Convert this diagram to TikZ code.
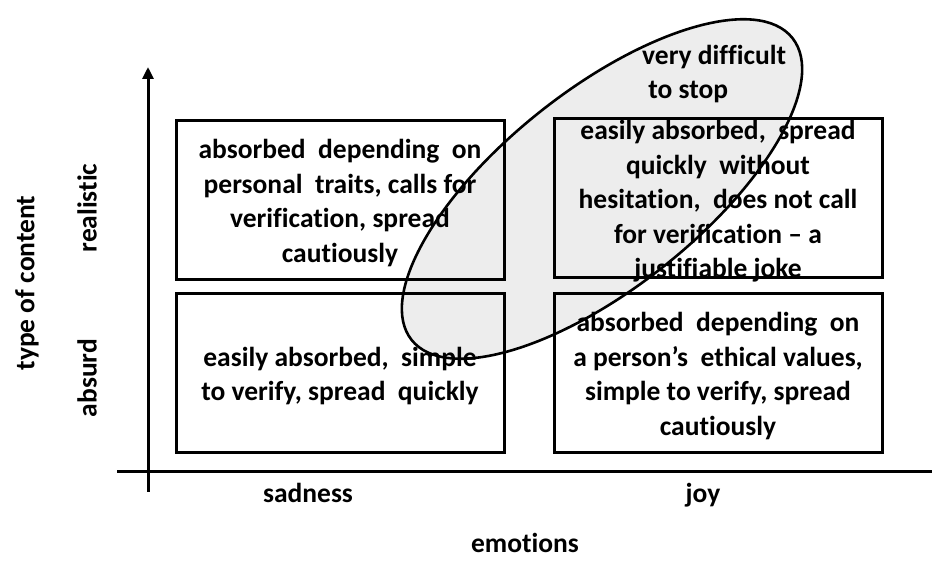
\documentclass[tikz,border=0pt]{standalone}
\usepackage{fontspec}
\setmainfont{Carlito}[Ligatures=NoCommon]
\usetikzlibrary{arrows.meta,shapes.geometric}
\definecolor{ellfill}{RGB}{237,237,237}
\tikzset{
  every node/.style={font=\fontsize{27.5}{34.5}\selectfont\bfseries, inner sep=0pt},
  cell/.style={draw, line width=3pt, minimum width=328pt, minimum height=159pt},
  celltext/.style={align=center},
  axis/.style={line width=3pt},
  hotshape/.style={ellipse, minimum width=486pt, minimum height=198pt, rotate=38.4, inner sep=0pt},
}
\begin{document}
\begin{tikzpicture}[x=1pt,y=1pt]
\useasboundingbox (0,0) rectangle (932,561);
% highlighted area (fill)
\node[hotshape, fill=ellfill] (hot) at (602,372) {};
% axes
\coordinate (yb) at (148,69);
\coordinate (yt) at (148,494);
\coordinate (xl) at (117,89);
\coordinate (xr) at (944,89);
\draw[axis, -{Triangle[length=12pt,width=11pt]}] (yb) -- (yt);
\draw[axis, -{Triangle[length=12pt,width=11pt]}] (xl) -- (xr);
% cells
\node[cell] (tl) at (340,361) {};
\node[cell] (bl) at (340,187.5) {};
\node[cell] (tr) at (718,362.5) {};
\node[cell] (br) at (718,188) {};
\node[celltext] (tlt) at (340,358) {absorbed\ \ depending\ \ on\\personal\ \ traits,\ calls\ for\\verification,\ spread\\cautiously};
\node[celltext] (blt) at (340,185) {easily absorbed,\ \ simple\\to verify, spread\ \ quickly};
\node[celltext] (trt) at (718,359.5) {easily\ absorbed,\ \ spread\\quickly\ \ without\\hesitation,\ \ does\ not\ call\\for\ verification\ --\ a\\justifiable joke};
\node[celltext] (brt) at (718,185) {absorbed\ \ depending\ \ on\\a\ person’s\ \ ethical values,\\simple\ to\ verify,\ spread\\cautiously};
% highlighted area label and outline
\node[align=left, anchor=west] (hotl) at (642,487) {very difficult\\\ to stop};
\node[hotshape, draw, line width=2.6pt] (hotline) at (602,372) {};
% axis labels
\node[anchor=base] (sad) at (308,58) {sadness};
\node[anchor=base] (joy) at (703,58) {joy};
\node[anchor=base] (emo) at (525,8) {emotions};
\node[rotate=90] (toc) at (27,278) {type of content};
\node[rotate=90] (real) at (87,353) {realistic};
\node[rotate=90] (abs) at (87,183) {absurd};
\end{tikzpicture}
\end{document}
